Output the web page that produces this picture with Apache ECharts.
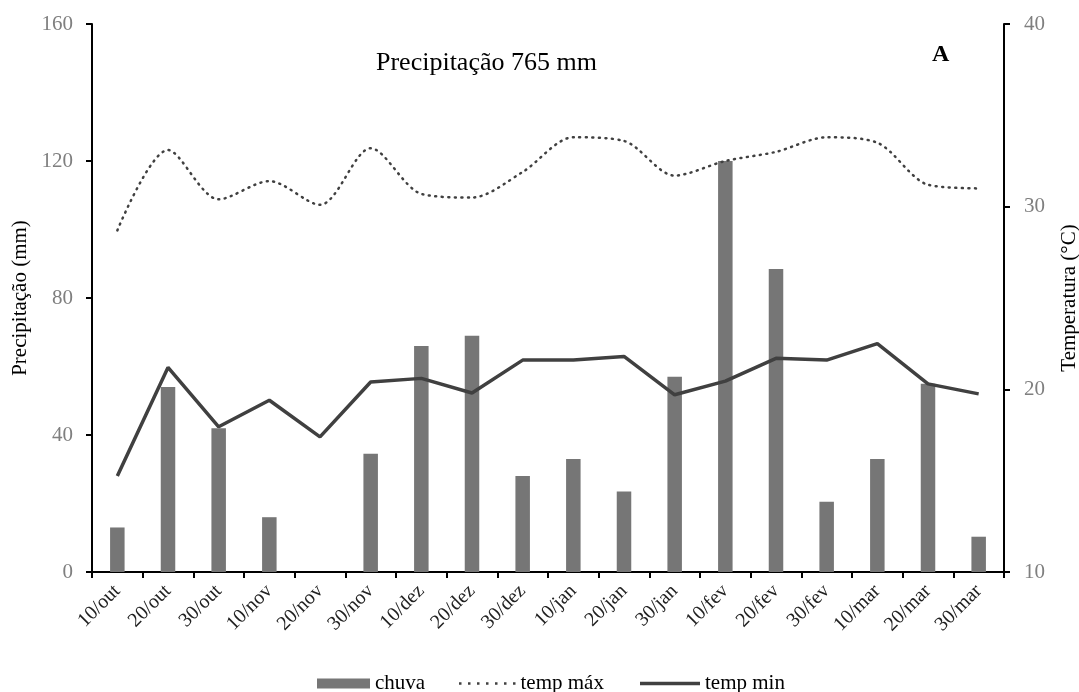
<!DOCTYPE html>
<html><head><meta charset="utf-8">
<script src="https://cdn.jsdelivr.net/npm/echarts@6/dist/echarts.min.js"></script>
<style>html,body{margin:0;padding:0;background:#fff}#c{width:1079px;height:692px}</style>
</head><body><div id="c"></div>
<script>
const categories = ['10/out','20/out','30/out','10/nov','20/nov','30/nov','10/dez','20/dez','30/dez','10/jan','20/jan','30/jan','10/fev','20/fev','30/fev','10/mar','20/mar','30/mar'];
const chuva = [13, 54, 42, 16, 0, 34.5, 66, 69, 28, 33, 23.5, 57, 120, 88.5, 20.5, 33, 55, 10.3];
const tempMax = [28.7, 33.1, 30.4, 31.4, 30.1, 33.2, 30.7, 30.5, 31.9, 33.8, 33.6, 31.7, 32.5, 33.0, 33.8, 33.5, 31.2, 31.0];
const tempMin = [15.25, 21.2, 17.95, 19.4, 17.4, 20.4, 20.6, 19.8, 21.6, 21.6, 21.8, 19.7, 20.45, 21.7, 21.6, 22.5, 20.3, 19.75];
const leftTicks = [0, 40, 80, 120, 160];
const rightTicks = [10, 20, 30, 40];

const font = 'Liberation Serif';
const dotPath = 'path://' + [0, 9, 18, 27, 36, 45, 54].map(x => 'M' + x + ',0h2.5v2.5h-2.5z').join(' ');
const legendText = { fontFamily: font, fontSize: 21, color: '#000' };
const legendTop = 668;
const chart = echarts.init(document.getElementById('c'));
chart.setOption({
  animation: false,
  textStyle: { fontFamily: font },
  grid: { left: 92, right: 75, top: 24, bottom: 120, outerBoundsMode: 'none', containLabel: false },
  title: [
    { text: 'Precipitação 765 mm', left: 371, top: 45, textStyle: { fontFamily: font, fontSize: 26, fontWeight: 'normal', color: '#000' } },
    { text: 'A', left: 927, top: 38, textStyle: { fontFamily: font, fontSize: 24, fontWeight: 'bold', color: '#000' } }
  ],
  legend: [
    { left: 312, top: legendTop, itemWidth: 53, itemHeight: 10, textStyle: legendText,
      data: [{ name: 'chuva', icon: 'rect' }] },
    { left: 454, top: legendTop, itemWidth: 56.5, itemHeight: 2.5, textStyle: legendText,
      data: [{ name: 'temp máx', icon: dotPath, itemStyle: { color: '#404040', borderWidth: 0 } }] },
    { left: 635, top: legendTop, itemWidth: 60, itemHeight: 3.5, textStyle: legendText,
      data: [{ name: 'temp min', icon: 'rect', itemStyle: { color: '#404040', borderWidth: 0 } }] }
  ],
  xAxis: {
    type: 'category', data: categories, boundaryGap: true,
    axisLine: { lineStyle: { color: '#000', width: 2 } },
    axisTick: { show: true, length: 6, lineStyle: { color: '#000', width: 2 } },
    axisLabel: { rotate: 45, fontSize: 20, color: '#222', fontFamily: font, margin: 16, interval: 0 }
  },
  yAxis: [
    {
      type: 'value', min: leftTicks[0], max: leftTicks[leftTicks.length - 1], interval: 40,
      name: 'Precipitação (mm)', nameLocation: 'middle', nameGap: 60, nameRotate: 90,
      nameTextStyle: { fontFamily: font, fontSize: 21, color: '#000' },
      axisLine: { show: true, lineStyle: { color: '#000', width: 2 } },
      axisTick: { show: true, length: 6, lineStyle: { color: '#000', width: 2 } },
      axisLabel: { fontSize: 21, color: '#7f7f7f', fontFamily: font, margin: 19 },
      splitLine: { show: false }
    },
    {
      type: 'value', min: rightTicks[0], max: rightTicks[rightTicks.length - 1], interval: 10,
      name: 'Temperatura (°C)', nameLocation: 'middle', nameGap: 55, nameRotate: 90,
      nameTextStyle: { fontFamily: font, fontSize: 21, color: '#000' },
      axisLine: { show: true, lineStyle: { color: '#000', width: 2 } },
      axisTick: { show: true, length: 6, lineStyle: { color: '#000', width: 2 } },
      axisLabel: { fontSize: 21, color: '#7f7f7f', fontFamily: font, margin: 20 },
      splitLine: { show: false }
    }
  ],
  series: [
    {
      name: 'chuva', type: 'bar', data: chuva, yAxisIndex: 0, barWidth: 14.5,
      itemStyle: { color: '#767676' }
    },
    {
      name: 'temp máx', type: 'line', data: tempMax, yAxisIndex: 1, smooth: 0.3,
      symbol: 'none', lineStyle: { color: '#404040', width: 2.5, type: [1, 5.5], cap: 'round' },
      itemStyle: { color: '#404040' }
    },
    {
      name: 'temp min', type: 'line', data: tempMin, yAxisIndex: 1,
      symbol: 'none', lineStyle: { color: '#404040', width: 3.5 },
      itemStyle: { color: '#404040' }
    }
  ]
});
</script></body></html>
